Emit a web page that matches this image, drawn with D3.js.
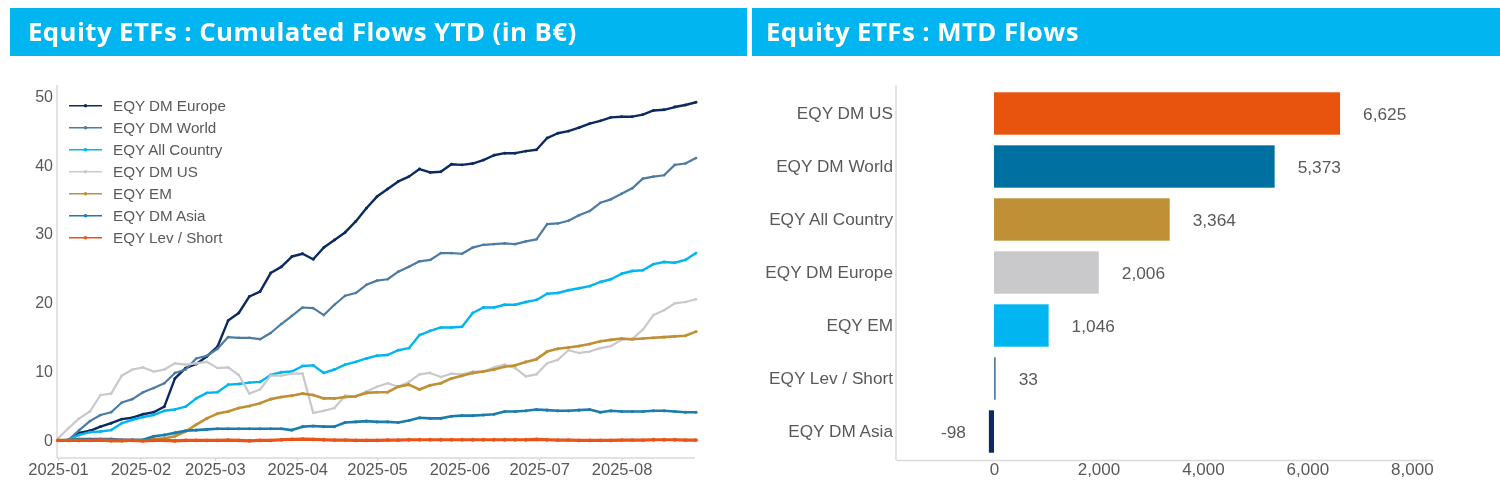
<!DOCTYPE html>
<html>
<head>
<meta charset="utf-8">
<title>Equity ETFs</title>
<script src="https://cdn.jsdelivr.net/npm/d3@7"></script>
<style>
  html, body { margin: 0; padding: 0; background: #fff; overflow: hidden; }
  svg { display: block; filter: blur(0.35px); }
  text { font-family: "Liberation Sans", Arial, sans-serif; fill: #595959; }
  .titre { font-family: "Open Sans", sans-serif; font-weight: 700; font-size: 25.8px; fill: #fff; letter-spacing: 0.42px; }
  .axe path, .axe line { stroke: #d9d9d9; stroke-width: 1.4; }
</style>
</head>
<body>
<svg width="1500" height="482"></svg>
<script>
// dates relevees tous les 4 jours
let dates = ["2025-01-01","2025-01-05","2025-01-09","2025-01-13","2025-01-17","2025-01-21","2025-01-25","2025-01-29",
  "2025-02-02","2025-02-06","2025-02-10","2025-02-14","2025-02-18","2025-02-22","2025-02-26",
  "2025-03-02","2025-03-06","2025-03-10","2025-03-14","2025-03-18","2025-03-22","2025-03-26","2025-03-30",
  "2025-04-03","2025-04-07","2025-04-11","2025-04-15","2025-04-19","2025-04-23","2025-04-27",
  "2025-05-01","2025-05-05","2025-05-09","2025-05-13","2025-05-17","2025-05-21","2025-05-25","2025-05-29",
  "2025-06-02","2025-06-06","2025-06-10","2025-06-14","2025-06-18","2025-06-22","2025-06-26","2025-06-30",
  "2025-07-04","2025-07-08","2025-07-12","2025-07-16","2025-07-20","2025-07-24","2025-07-28",
  "2025-08-01","2025-08-05","2025-08-09","2025-08-13","2025-08-17","2025-08-21","2025-08-25","2025-08-29"];

// flux cumules YTD (Md EUR)
let dmEurope = [0,0.05,1.1,1.4,2.0,2.5,3.1,3.3,3.8,4.1,4.9,9.0,10.5,11.1,12.2,13.6,17.4,18.5,20.9,21.6,24.3,25.2,26.7,27.1,26.3,28.0,29.1,30.2,31.8,33.7,35.4,36.5,37.6,38.3,39.4,38.9,39.0,40.1,40.0,40.2,40.7,41.4,41.7,41.7,42.0,42.2,43.9,44.6,44.9,45.4,46.0,46.4,46.9,47.0,47.0,47.3,47.9,48.0,48.4,48.7,49.1];
let dmWorld = [0,0.1,1.5,2.8,3.7,4.1,5.5,6.0,7.0,7.6,8.3,9.8,10.3,11.9,12.3,13.3,15.0,14.9,14.9,14.7,15.6,16.9,18.1,19.3,19.2,18.2,19.7,21.0,21.4,22.6,23.2,23.4,24.5,25.2,26.0,26.2,27.2,27.2,27.1,28.0,28.4,28.5,28.6,28.5,28.9,29.2,31.4,31.5,31.9,32.7,33.3,34.5,35.0,35.8,36.6,38.0,38.3,38.5,40.0,40.2,41.0];
let allCountry = [0,0.1,0.8,1.2,1.3,1.5,2.5,3.0,3.4,3.7,4.3,4.5,4.9,6.1,6.9,7.0,8.1,8.2,8.4,8.5,9.5,9.9,10.0,10.8,10.9,9.8,10.3,11.0,11.4,11.9,12.3,12.4,13.1,13.4,15.3,15.9,16.4,16.4,16.5,18.5,19.3,19.3,19.7,19.7,20.1,20.4,21.3,21.4,21.8,22.1,22.4,23.0,23.4,24.2,24.6,24.7,25.6,25.9,25.8,26.2,27.2];
let dmUS = [0.3,1.8,3.2,4.2,6.6,6.8,9.4,10.3,10.6,10.0,10.3,11.2,11.0,11.2,11.4,10.5,10.6,9.5,6.8,7.4,9.4,9.4,9.7,9.7,4.0,4.3,4.7,6.5,6.4,7.1,7.8,8.3,7.8,8.5,9.6,9.8,9.2,9.7,9.6,10.0,10.0,10.6,11.0,10.5,9.3,9.6,11.2,11.7,13.1,12.7,12.9,13.4,13.7,14.6,14.7,16.1,18.2,18.9,19.9,20.1,20.5];
let em = [0,0,0.1,0.1,0,-0.1,-0.1,0,0,0.2,0.3,0.6,1.3,2.3,3.2,3.9,4.2,4.7,5.0,5.4,6.0,6.3,6.5,6.8,6.6,6.1,6.1,6.3,6.4,6.9,7.0,7.0,7.8,8.1,7.4,8.0,8.3,9.0,9.4,9.8,10.0,10.3,10.7,10.9,11.4,11.8,12.9,13.3,13.5,13.7,14.0,14.4,14.6,14.8,14.7,14.8,14.9,15.0,15.1,15.2,15.8];
let dmAsia = [0,0.05,0.2,0.2,0.2,0.2,0.1,0.1,0.1,0.6,0.8,1.1,1.4,1.5,1.6,1.7,1.7,1.7,1.7,1.7,1.7,1.7,1.5,2.0,2.1,2.0,2.0,2.6,2.7,2.8,2.7,2.7,2.6,2.9,3.3,3.2,3.2,3.5,3.6,3.6,3.7,3.8,4.2,4.2,4.3,4.5,4.4,4.3,4.3,4.4,4.5,4.1,4.3,4.2,4.2,4.2,4.3,4.3,4.2,4.1,4.1];
let levShort = [0,0,0,0,0.05,0,0,0,-0.05,0,0,-0.05,0,0,0,0,0.05,0,-0.05,0,0,0.1,0.15,0.2,0.15,0.1,0.05,0.05,0,0,0,0.05,0.05,0.1,0.1,0.1,0.1,0.1,0.1,0.1,0.1,0.1,0.1,0.1,0.1,0.15,0.1,0.05,0.05,0,0,0,0,0.05,0.05,0.05,0.1,0.1,0.1,0.05,0.05];

let noms = ["EQY DM Europe","EQY DM World","EQY All Country","EQY DM US","EQY EM","EQY DM Asia","EQY Lev / Short"];
let couleurs = ["#0b2a5f","#4d7ba1","#00b5f0","#c9c9cb","#bf9035","#1a7dab","#e8541a"];
let series = [dmEurope, dmWorld, allCountry, dmUS, em, dmAsia, levShort];
let epaisseurs = [2.4, 2.2, 2.4, 2.2, 2.6, 2.6, 3.2];

let yTicks = [0, 10, 20, 30, 40, 50];

// flux MTD
let categories = ["EQY DM US","EQY DM World","EQY All Country","EQY DM Europe","EQY EM","EQY Lev / Short","EQY DM Asia"];
let mtd = [6625, 5373, 3364, 2006, 1046, 33, -98];
let couleursMtd = ["#e8530e","#0070a0","#bf9035","#c9c9cb","#00b5f0","#4d7ba1","#0b2a5f"];
let xTicksMtd = [0, 2000, 4000, 6000, 8000];

let svg = d3.select("svg");

// Bandeaux de titre
svg.append("rect").attr("x", 10).attr("y", 8).attr("width", 737).attr("height", 48).attr("fill", "#00b5f0");
svg.append("rect").attr("x", 752).attr("y", 8).attr("width", 748).attr("height", 48).attr("fill", "#00b5f0");
svg.append("text").attr("class", "titre").attr("x", 28).attr("y", 41).text("Equity ETFs : Cumulated Flows YTD (in B€)");
svg.append("text").attr("class", "titre").attr("x", 766).attr("y", 41).text("Equity ETFs : MTD Flows");

// ---- Graphique de gauche : flux cumules ----
let parseDate = d3.timeParse("%Y-%m-%d");
let jours = dates.map(parseDate);

let x = d3.scaleTime().domain([jours[0], jours[jours.length - 1]]).range([58, 696]);
let y = d3.scaleLinear().domain([-2.55, 51.6]).range([458, 85]);

let axeX = svg.append("g").attr("class", "axe").attr("transform", "translate(0,458)")
  .call(d3.axisBottom(x).ticks(d3.timeMonth.every(1)).tickFormat(d3.timeFormat("%Y-%m")).tickSize(3).tickSizeOuter(0));
axeX.select(".domain").attr("d", "M57,0H695");
axeX.selectAll("text").attr("y", 5).attr("dy", "0.71em").style("font-size", "16.5px").style("fill", "#595959").style("font-family", "Liberation Sans");

let axeY = svg.append("g").attr("class", "axe").attr("transform", "translate(57,0)")
  .call(d3.axisLeft(y).tickValues(yTicks).tickSize(0).tickPadding(4).tickSizeOuter(0));
axeY.select(".domain").attr("d", "M0,85V458");
axeY.selectAll("text").style("font-size", "16px").style("fill", "#595959").style("font-family", "Liberation Sans");

let ligne = d3.line().x((d, i) => x(jours[i])).y(d => y(d));

series.forEach(function (valeurs, k) {
  svg.append("path")
    .attr("d", ligne(valeurs))
    .attr("fill", "none")
    .attr("stroke", couleurs[k])
    .attr("stroke-width", epaisseurs[k])
    .attr("stroke-linejoin", "round");
  svg.append("g").selectAll("circle")
    .data(valeurs)
    .enter()
    .append("circle")
    .attr("cx", (d, i) => x(jours[i]))
    .attr("cy", d => y(d))
    .attr("r", epaisseurs[k] * 0.6)
    .attr("fill", couleurs[k]);
});

// Legende
let legendeY = d3.scalePoint().domain(noms).range([105.7, 237.7]);
noms.forEach(function (nom, k) {
  let py = legendeY(nom);
  svg.append("line").attr("x1", 69).attr("x2", 102).attr("y1", py).attr("y2", py)
    .attr("stroke", couleurs[k]).attr("stroke-width", 1.6);
  svg.append("circle").attr("cx", 85.5).attr("cy", py).attr("r", 1.8).attr("fill", couleurs[k]);
  svg.append("text").attr("x", 113).attr("y", py).attr("dy", "0.35em").style("font-size", "15.2px").text(nom);
});

// ---- Graphique de droite : flux MTD ----
let xb = d3.scaleLinear().domain([-1876, 8405]).range([896, 1433]);
let yb = d3.scaleBand().domain(categories).range([87, 458]).paddingInner(0.2).paddingOuter(0.1);

svg.append("g").selectAll("rect")
  .data(mtd)
  .enter()
  .append("rect")
  .attr("x", d => xb(Math.min(0, d)))
  .attr("y", (d, i) => yb(categories[i]))
  .attr("width", d => Math.abs(xb(d) - xb(0)))
  .attr("height", yb.bandwidth())
  .attr("fill", (d, i) => couleursMtd[i]);

// etiquettes de valeur (tiret simple pour le -98)
svg.append("g").selectAll("text")
  .data(mtd)
  .enter()
  .append("text")
  .attr("x", d => xb(d) + (d < 0 ? -23 : 23))
  .attr("y", (d, i) => yb(categories[i]) + yb.bandwidth() / 2)
  .attr("dy", "0.35em")
  .attr("text-anchor", d => d < 0 ? "end" : "start")
  .style("font-size", "17.3px")
  .text(d => d3.format(",")(d).replace("−", "-"));

let axeXb = svg.append("g").attr("class", "axe").attr("transform", "translate(0,460)")
  .call(d3.axisBottom(xb).tickValues(xTicksMtd).tickFormat(d3.format(",")).tickSize(0).tickPadding(3).tickSizeOuter(0));
axeXb.selectAll("text").attr("dy", "0.71em").style("font-size", "17px").style("fill", "#595959").style("font-family", "Liberation Sans");

let axeYb = svg.append("g").attr("class", "axe").attr("transform", "translate(896,0)")
  .call(d3.axisLeft(yb).tickSize(0).tickPadding(3));
axeYb.select(".domain").attr("d", "M0,85V460");
axeYb.selectAll("text").style("font-size", "17.2px").style("fill", "#595959").style("font-family", "Liberation Sans");
</script>
</body>
</html>
